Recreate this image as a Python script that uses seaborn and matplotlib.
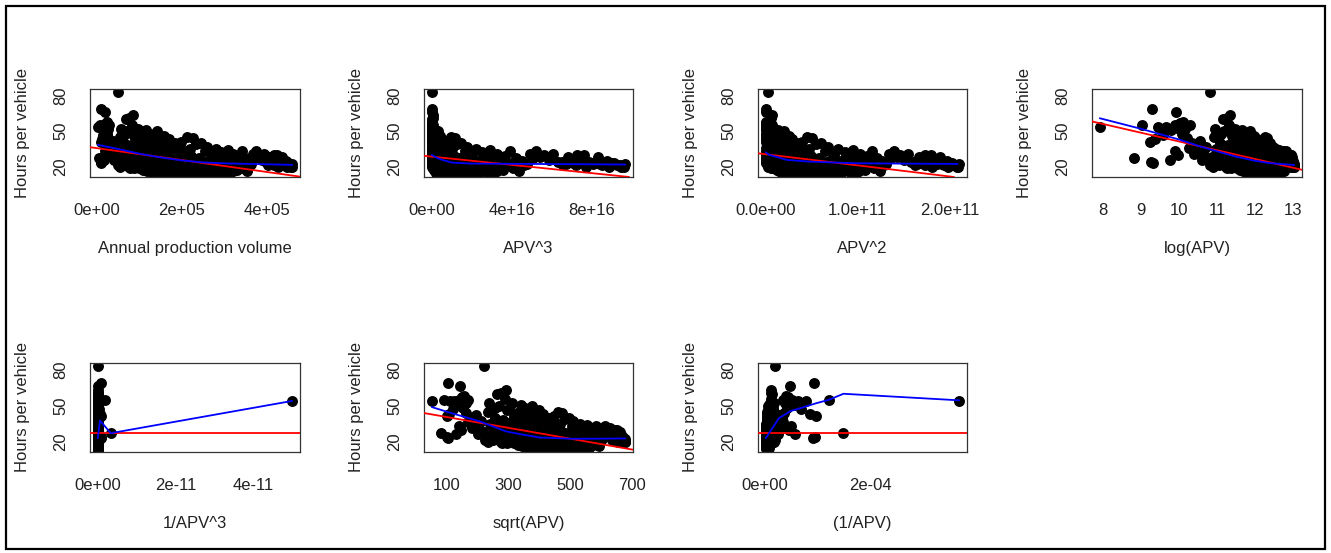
import numpy as np
import pandas as pd
import matplotlib
matplotlib.use("Agg")
import matplotlib.pyplot as plt
import seaborn as sns
from matplotlib.patches import Rectangle

# ---------------- data ----------------
low_apv = [2715, 6700, 8200, 10500, 11000, 10800, 10200, 11600, 12700, 14500,
           15600, 17300, 18000, 19500, 20400, 21000, 22500, 23500, 20000, 21500,
           24500, 26000, 29000, 27000, 28500, 31000, 33000, 36000, 40000, 49300,
           47000, 50000, 45000, 43000, 38000, 55000, 58000, 52000, 54000, 70000,
           72000, 77000, 85000, 83000, 88000, 80000, 65000, 62000, 75000, 68000,
           60000, 78000, 66000, 57000]
low_hours = [54, 27, 55, 24, 23, 69, 41, 43, 54, 47,
             54, 26, 51, 55, 66.5, 53, 57, 48, 33, 30,
             58, 52, 55, 44, 36, 40, 31, 33, 26, 83,
             26, 21, 37, 30, 42, 45, 35, 28, 20, 60,
             50, 61, 63.5, 55.4, 46, 38, 40, 32, 27, 22,
             24, 19, 48, 52]

mid_apv = [91000, 93500, 95000, 96500, 98000, 100500, 102000, 103500, 105000, 107000, 108500, 110000,
           111500, 113000, 115000, 116500, 118000, 119500, 121000, 123000, 124500, 126000, 128000, 129500,
           131000, 133000, 134500, 136000, 138000, 139500,
           141000, 142500, 144000, 145500, 147000, 148500, 150000, 152000, 153500, 155000, 157000, 158500,
           160000, 162000, 163500, 165000, 167000, 168500, 170000, 172000, 174000, 175500, 177000, 179000,
           181000, 183000, 185000, 187000, 189000, 191000, 193000, 195000, 197000, 199000, 201000, 203000,
           205000, 207000, 209000, 211000, 213000, 215000, 218000, 220000, 222000, 225000, 227000, 229000,
           231000, 234000, 237000, 240000, 243000, 245000, 248000, 251000, 254000, 257000, 260000, 263000,
           266000, 269000, 272000, 275000, 278000, 281000, 284000, 287000, 290000, 293000, 296000, 299000,
           302000, 305000, 308000, 311000, 314000, 317000, 320000, 323000, 326000, 329000, 332000, 336000,
           340000, 344000, 348000, 352000, 356000, 359000,
           362000, 366000, 370000, 374000, 378000, 383000, 388000, 393000, 398000, 403000, 408000, 413000,
           417000, 421000,
           424000, 428000, 432000, 436000, 440000, 444000, 448000, 452000, 456000, 459000]
mid_hours = [47, 22, 36, 52, 28, 19, 41, 33, 25, 44, 17, 30,
             38, 21, 51, 29, 16, 43, 25, 34, 48, 19, 31, 23,
             40, 15, 27, 36, 20, 45,
             24, 50, 18, 33, 27, 14, 41, 22, 36, 16, 29, 46,
             20, 25, 38, 15, 31, 19, 43, 23, 17, 28, 35, 21,
             19, 30, 40, 15, 26, 22, 37, 17, 28, 41, 20, 24,
             33, 14, 27, 45, 18, 23, 35, 16, 29, 44, 21, 26,
             22, 39, 16, 27, 19, 40, 24, 15, 33, 21, 37, 18,
             26, 14, 30, 23, 17, 35, 20, 25, 16, 32, 22, 19,
             28, 18, 34, 22, 15, 26, 31, 20, 24, 17, 29, 23,
             33, 19, 27, 16, 25, 21,
             22, 31, 27, 33, 28, 30, 26, 31, 24, 21, 28, 23,
             30, 25,
             30, 24, 22, 28, 21, 25, 23, 21, 20, 22]

fill_apv = [122000, 127000, 131000, 136000, 143000, 146000, 151000, 156000, 159000, 164000,
            169000, 173000, 178000, 182000, 186000, 190000, 194000, 198000, 202000, 206000,
            210000, 214000, 217000, 221000, 224000, 228000, 232000, 236000, 239000, 242000,
            246000, 249000, 253000, 256000, 259000, 262000, 265000, 268000, 271000, 274000,
            277000, 280000, 283000, 286000, 289000, 292000, 295000, 298000, 301000, 304000,
            307000, 310000, 313000, 316000, 319000, 115000, 118000, 125000, 134000,
            139000, 148000, 154000, 162000, 167000, 176000, 184000, 196000, 204000, 212000]
fill_hours = [18, 22, 17, 24, 19, 21, 16, 23, 18, 20,
              15, 22, 17, 24, 19, 16, 21, 18, 15, 22,
              17, 20, 24, 18, 15, 21, 19, 23, 17, 20,
              15.5, 22, 18, 24, 20, 16, 22, 19, 23, 17,
              21, 15, 24, 18, 21, 16, 23, 19, 21, 15,
              24, 18, 22, 19, 16, 20, 24, 16, 21,
              15, 24, 19, 17, 23, 20, 16, 23, 19, 15]

extra_apv = [61000, 63000, 64000, 67000, 69000, 71000, 73000, 74000, 76000, 79000,
             81000, 82000, 84000, 86000, 87000, 89000, 92000, 94000, 97000, 99000,
             141000, 145000, 150000, 157000, 163000, 168000, 175000, 180000, 188000, 192000,
             200000, 208000, 216000, 223000, 230000, 238000, 244000, 252000, 258000, 264000,
             270000, 276000, 282000, 288000, 294000, 300000, 306000, 312000, 318000,
             402000, 406000, 411000, 416000, 419000,
             426000, 431000, 438000, 446000, 450000, 455000, 458000]
extra_hours = [27, 21, 34, 29, 25, 31, 23, 36, 20, 30,
               26, 33, 22, 28, 19, 35, 26, 31, 21, 27,
               16, 20, 18, 15, 19, 21, 16, 20, 17, 15,
               21, 16, 19, 17, 15, 18, 21, 16, 19, 15,
               20, 18, 16, 20, 17, 19, 16, 20, 18,
               24, 22, 25, 21, 23,
               20, 23, 22, 20, 23, 21, 20]

# fitted lines: red = straight fit (intercept, slope),
# blue = smoother vertices given at APV values (transformed like the points)
red_intercept = [35.7, 28.5, 30.5, 115.2, 27.0, 45.1, 27.0]
red_slope = [-5.06e-5, -1.75e-16, -9.4e-11, -7.39, 0.0, -0.04545, 0.0]

blue_apv = [
    [2715, 50000, 100000, 150000, 200000, 250000, 300000, 350000, 400000, 459000],
    [2715, 100000, 136000, 174000, 217000, 271000, 342000, 391000, 431000, 459000],
    [2715, 60000, 104000, 152000, 217000, 311000, 380000, 457000],
    [2715, 8100, 22000, 36300, 59900, 98700, 162800, 242000, 459000],
    [459000, 12000, 6700, 2715],
    [2715, 11900, 42400, 85300, 122500, 160000, 258000, 360000, 459000],
    [459000, 37000, 20400, 14700, 10300, 8200, 6700, 2715],
]
blue_hours = [
    [38.5, 35.0, 31.0, 27.8, 25.3, 23.6, 22.8, 22.4, 22.0, 21.5],
    [29.9, 29.0, 27.5, 25.7, 23.4, 22.6, 22.4, 22.2, 22.0, 21.8],
    [32.2, 30.0, 28.5, 25.7, 24.3, 22.9, 22.6, 22.3],
    [61.0, 52.0, 43.0, 37.7, 33.0, 28.5, 25.0, 23.0, 21.4],
    [22.8, 37.6, 27.0, 54.0],
    [48.9, 44.3, 37.0, 28.5, 25.6, 23.4, 22.3, 22.4, 22.6],
    [22.8, 39.5, 45.5, 48.0, 52.0, 55.0, 60.0, 54.5],
]

x_labels = ["Annual production volume", "APV^3", "APV^2", "log(APV)",
            "1/APV^3", "sqrt(APV)", "(1/APV)"]
y_label = "Hours per vehicle"
y_ticks = [20, 30, 40, 50, 60, 70, 80]
y_tick_labels = ["20", "", "", "50", "", "", "80"]
x_ticks = [
    [0, 1e5, 2e5, 3e5, 4e5],
    [0, 2e16, 4e16, 6e16, 8e16, 1e17],
    [0, 5e10, 1e11, 1.5e11, 2e11],
    [8, 9, 10, 11, 12, 13],
    [0, 1e-11, 2e-11, 3e-11, 4e-11, 5e-11],
    [100, 200, 300, 400, 500, 600, 700],
    [0, 1e-4, 2e-4, 3e-4],
]
x_tick_labels = [
    ["0e+00", "", "2e+05", "", "4e+05"],
    ["0e+00", "", "4e+16", "", "8e+16", ""],
    ["0.0e+00", "", "1.0e+11", "", "2.0e+11"],
    ["8", "9", "10", "11", "12", "13"],
    ["0e+00", "", "2e-11", "", "4e-11", ""],
    ["100", "", "300", "", "500", "", "700"],
    ["0e+00", "", "2e-04", ""],
]

apv = np.array(low_apv + mid_apv + fill_apv + extra_apv, dtype=float)
hours = np.array(low_hours + mid_hours + fill_hours + extra_hours, dtype=float)

transform_funcs = [
    lambda v: v,
    lambda v: v ** 3,
    lambda v: v ** 2,
    np.log,
    lambda v: 1 / v ** 3,
    np.sqrt,
    lambda v: 1 / v,
]

# ---------------- figure ----------------
sns.set_style("white")
plt.rcParams["font.family"] = ["Liberation Sans", "DejaVu Sans"]

W, H = 1331, 553
fig = plt.figure(figsize=(W / 100, H / 100), dpi=100)
fig.patch.set_facecolor("white")

col_px = [(90, 300), (424, 633), (758, 967), (1092, 1302)]
row_px = [(89, 177), (363, 452)]
fs = 12

for k in range(7):
    r, c = divmod(k, 4)
    x0, x1 = col_px[c]
    y0, y1 = row_px[r]
    ax = fig.add_axes([x0 / W, 1 - y1 / H, (x1 - x0) / W, (y1 - y0) / H])
    tf = transform_funcs[k]
    xv = tf(apv)
    df = pd.DataFrame({"x": xv, "y": hours})
    sns.scatterplot(data=df, x="x", y="y", ax=ax, color="black", s=62,
                    edgecolor="black", linewidth=0, legend=False, zorder=2)
    xmin, xmax = xv.min(), xv.max()
    ymin, ymax = hours.min(), hours.max()
    ax.set_xlim(xmin - 0.04 * (xmax - xmin), xmax + 0.04 * (xmax - xmin))
    ax.set_ylim(ymin - 0.04 * (ymax - ymin), ymax + 0.04 * (ymax - ymin))

    # red straight fit
    ax.axline((0, red_intercept[k]), slope=red_slope[k], color="#FF0000",
              lw=1.3, zorder=3)

    # blue smoother
    bdf = pd.DataFrame({"x": tf(np.array(blue_apv[k], dtype=float)),
                        "y": blue_hours[k]})
    sns.lineplot(data=bdf, x="x", y="y", ax=ax, color="#0000FF", lw=1.3,
                 estimator=None, sort=False, zorder=4)

    ax.set_xticks(x_ticks[k])
    ax.set_xticklabels(x_tick_labels[k], fontsize=fs)
    ax.set_yticks(y_ticks)
    ax.set_yticklabels(y_tick_labels, fontsize=fs, rotation=90, va="center")
    ax.tick_params(axis="both", direction="out", length=7.5, width=0.8,
                   color="black", labelcolor="#222222")
    ax.tick_params(axis="x", pad=11)
    ax.tick_params(axis="y", pad=8)
    ax.set_xlabel(x_labels[k], fontsize=fs, labelpad=17, color="#222222")
    ax.set_ylabel(y_label, fontsize=fs, labelpad=17, color="#222222")
    for sp in ax.spines.values():
        sp.set_color("#333333")
        sp.set_linewidth(0.9)
        sp.set_visible(True)

# outer frame
fig.add_artist(Rectangle((6 / W, 1 - 549 / H), (1325 - 6) / W, (549 - 6) / H,
                         transform=fig.transFigure, fill=False,
                         edgecolor="black", lw=1.6))

fig.savefig("out.png", dpi=100, facecolor="white")
